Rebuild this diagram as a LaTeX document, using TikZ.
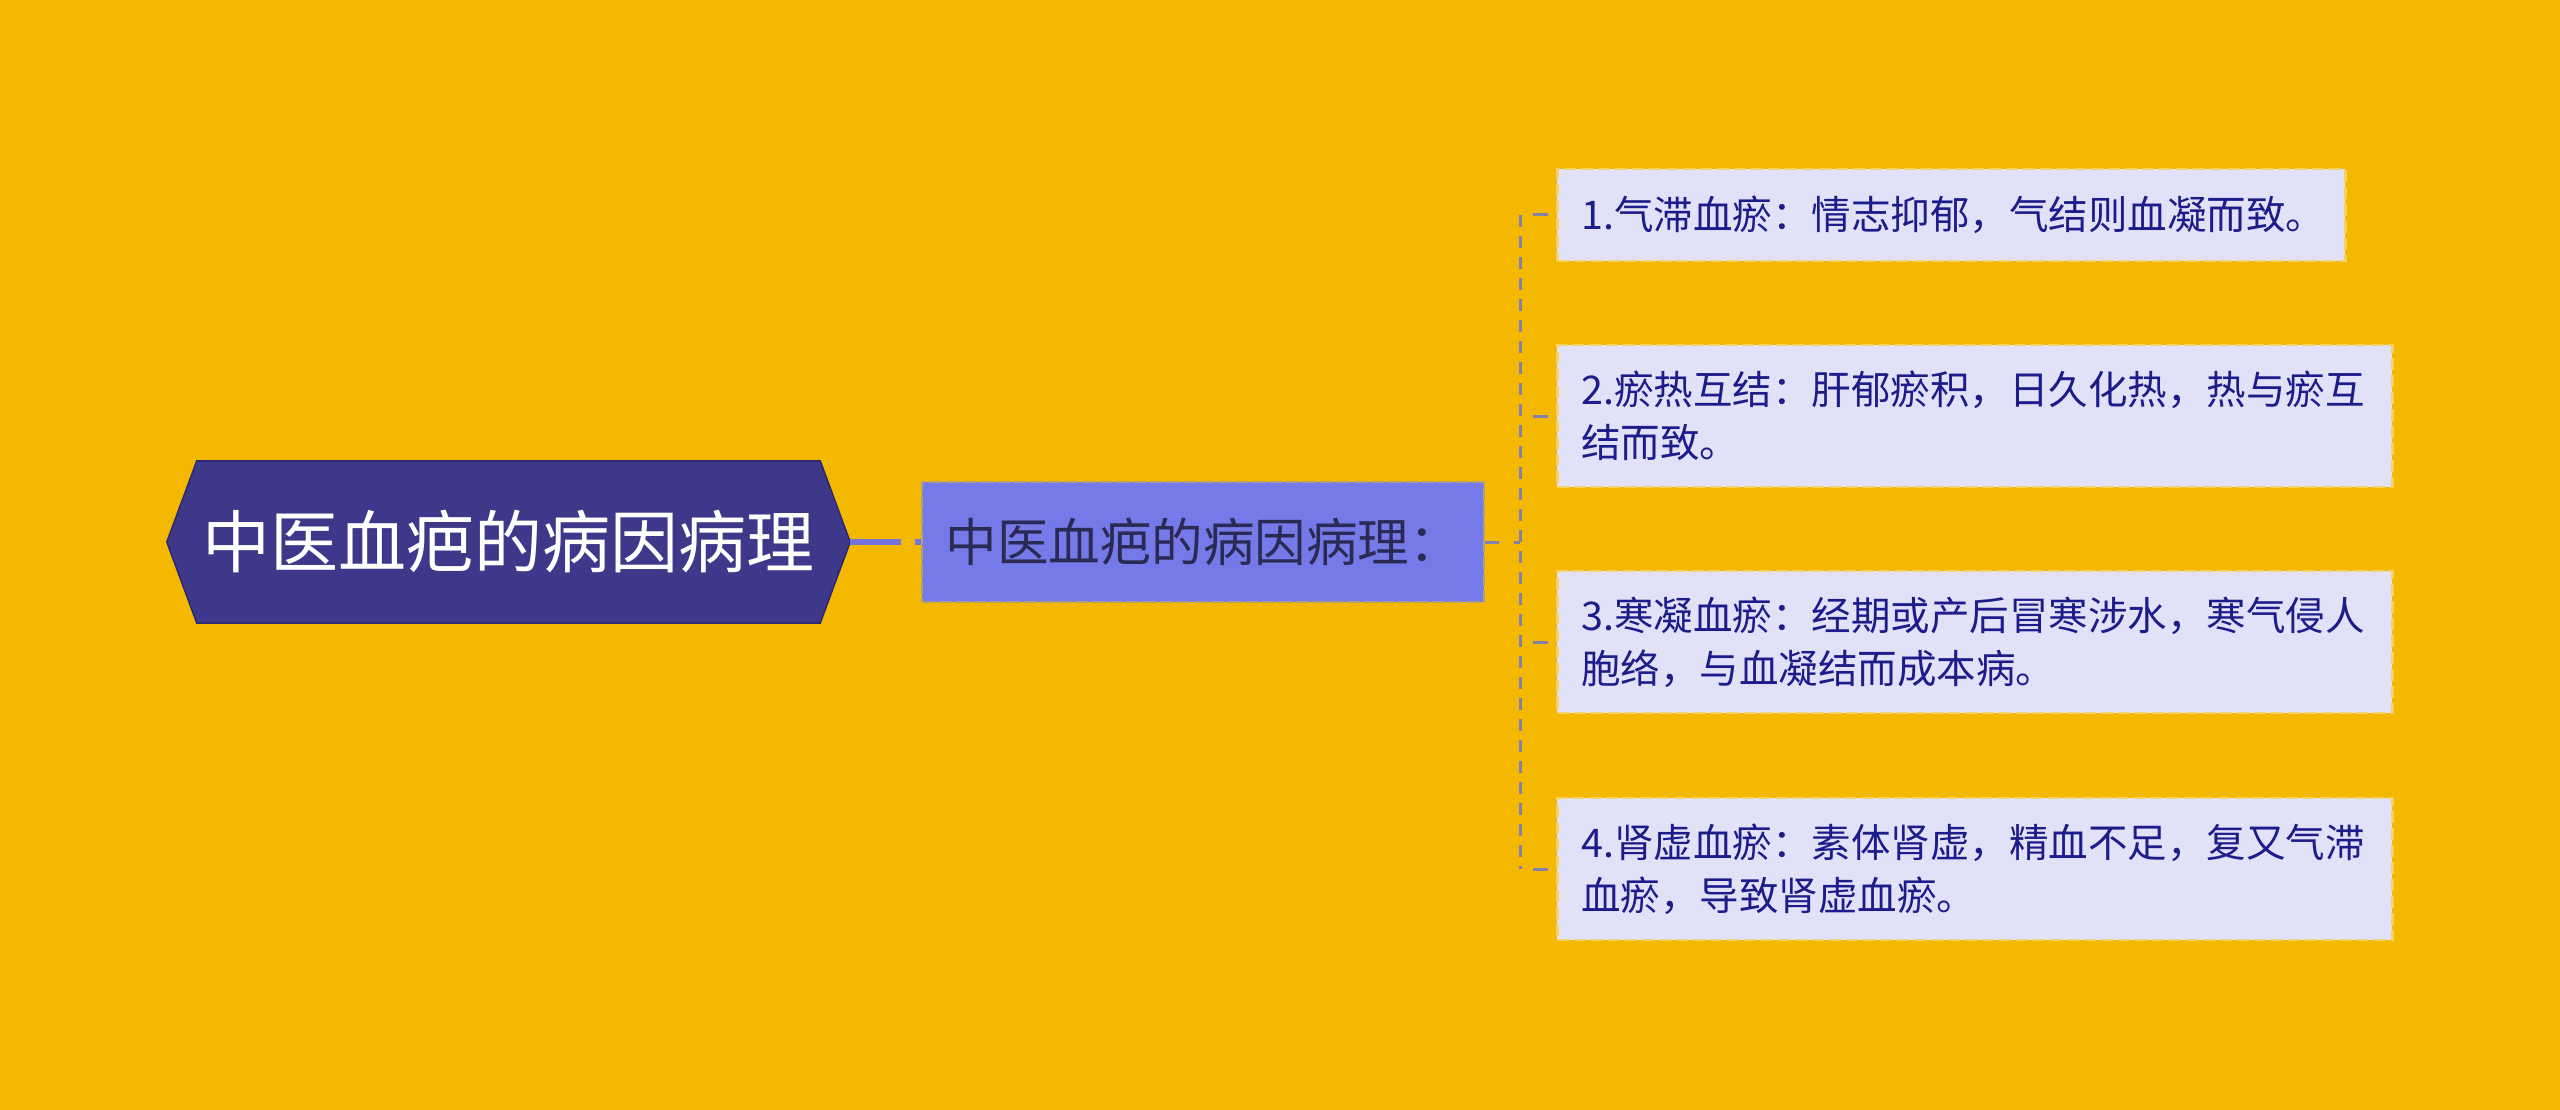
\documentclass[tikz,border=0pt]{standalone}
\usepackage{fontspec}
\setmainfont{Noto Sans CJK SC}
\usetikzlibrary{backgrounds,calc}
\definecolor{bgc}{HTML}{F5B800}
\definecolor{rootc}{HTML}{3D3889}
\definecolor{rootedge}{HTML}{2C2870}
\definecolor{midc}{HTML}{7679E8}
\definecolor{midedge}{HTML}{B0A07E}
\definecolor{midtext}{HTML}{2A2A55}
\definecolor{boxc}{HTML}{E1E2F7}
\definecolor{boxedge}{HTML}{F4D26A}
\definecolor{boxtext}{HTML}{1C1C8A}
\definecolor{linkc}{HTML}{7373DA}
\definecolor{treec}{HTML}{8381AA}
\tikzset{
  rootnode/.style={minimum width=683pt, minimum height=162pt, inner sep=0pt,
    text=white, font=\fontsize{68}{80}\selectfont},
  midnode/.style={fill=midc, draw=midedge, dash pattern=on 13pt off 4pt, line width=2pt,
    minimum width=562pt, minimum height=120pt, inner sep=0pt,
    text=midtext, font=\fontsize{51.5}{60}\selectfont},
  leafbox/.style={fill=boxc, draw=boxedge, dash pattern=on 12pt off 5pt, line width=2.5pt,
    anchor=west, inner xsep=24pt, inner ysep=0pt, align=left,
    text=boxtext, font=\fontsize{39.5}{53}\selectfont},
  trunkline/.style={treec, line width=3pt, dash pattern=on 12pt off 9pt},
}
\begin{document}
\begin{tikzpicture}[x=1pt,y=-1pt]
\useasboundingbox (0,0) rectangle (2560,1110);

\node[rootnode] (root) at (508.5,542) {中医血疤的病因病理};
\begin{scope}[on background layer]
\fill[bgc] (0,0) rectangle (2560,1110);
\filldraw[fill=rootc, draw=rootedge, line width=1.5pt]
  ([xshift=30pt]root.north west) -- ([xshift=-30pt]root.north east) -- (root.east)
  -- ([xshift=-30pt]root.south east) -- ([xshift=30pt]root.south west) -- (root.west) -- cycle;
\end{scope}

\node[midnode] (mid) at (1203,542) {\raisebox{-6pt}{中医血疤的病因病理：}};

\node[leafbox, text width=740pt, minimum height=92pt] (b1) at (1556,215)
  {1.气滞血瘀：情志抑郁，气结则血凝而致。};
\node[leafbox, text width=787pt, minimum height=142pt] (b2) at (1556,416)
  {2.瘀热互结：肝郁瘀积，日久化热，热与瘀互\\结而致。};
\node[leafbox, text width=787pt, minimum height=142pt] (b3) at (1556,642)
  {3.寒凝血瘀：经期或产后冒寒涉水，寒气侵人\\胞络，与血凝结而成本病。};
\node[leafbox, text width=787pt, minimum height=142pt] (b4) at (1556,869)
  {4.肾虚血瘀：素体肾虚，精血不足，复又气滞\\血瘀，导致肾虚血瘀。};

% root -> mid
\draw[linkc, line width=6pt, dash pattern=on 51pt off 14pt on 20pt off 0pt] (root.east) -- (mid.west);

% trunk
\coordinate (tm) at (1520,542);
\coordinate (t1) at (1520,215);
\coordinate (t2) at (1520,416);
\coordinate (t3) at (1520,642);
\coordinate (t4) at (1520,869);
\draw[trunkline, dash pattern=on 14pt off 15pt on 10pt off 0pt] (mid.east) -- (tm);
\draw[trunkline] (t1) -- (t4);
\foreach \i in {1,2,3,4}{
  \draw[treec, line width=3pt, dash pattern=on 0pt off 13pt on 15pt off 20pt] (t\i) -- (b\i.west);
}
\end{tikzpicture}
\end{document}
